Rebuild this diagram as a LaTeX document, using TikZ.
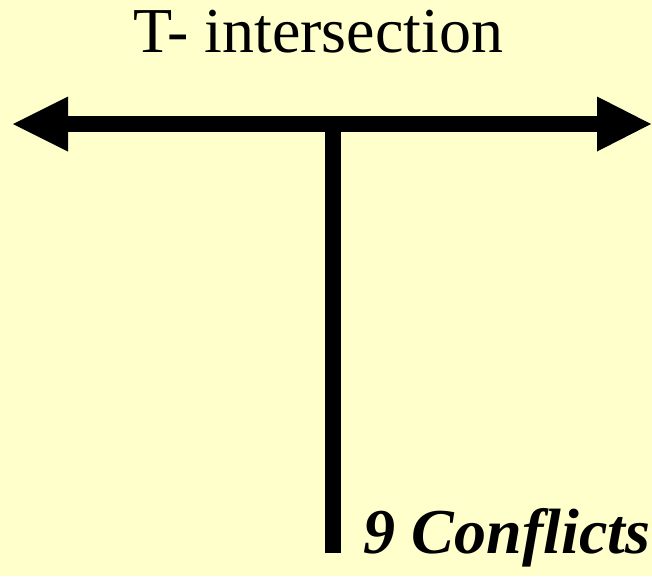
\documentclass[tikz,border=0pt]{standalone}
\usepackage{fontspec}
\newfontfamily\timesfont{LiberationSerif}[Extension=.ttf,UprightFont=*-Regular,BoldFont=*-Bold,ItalicFont=*-Italic,BoldItalicFont=*-BoldItalic]
\definecolor{bgyellow}{HTML}{FFFFCC}
\begin{document}
\begin{tikzpicture}[x=1pt,y=-1pt,
  road/.style={line width=16pt},
  head/.style={fill=black},
  lbl/.style={inner sep=0pt,anchor=base,font=\timesfont\fontsize{64}{70}\selectfont}]
\fill[bgyellow] (0,0) rectangle (652,576);
\useasboundingbox (0,0) rectangle (652,576);
\coordinate (L) at (68,124);
\coordinate (R) at (597,124);
\coordinate (J) at (332.5,124);
\coordinate (B) at (332.5,553);
\draw[road] (L) -- (R);
\draw[road] ([yshift=-8pt]J) -- (B);
\fill[head] (13,124) -- (68,96.5) -- (68,151.5) -- cycle;
\fill[head] (651,124) -- (597,96.5) -- (597,151.5) -- cycle;
\node[lbl] (title) at (318.5,52) {T- intersection};
\node[lbl,font=\timesfont\fontsize{64}{70}\selectfont\bfseries\itshape] (count) at (507,553) {9 Conflicts};
\end{tikzpicture}
\end{document}
